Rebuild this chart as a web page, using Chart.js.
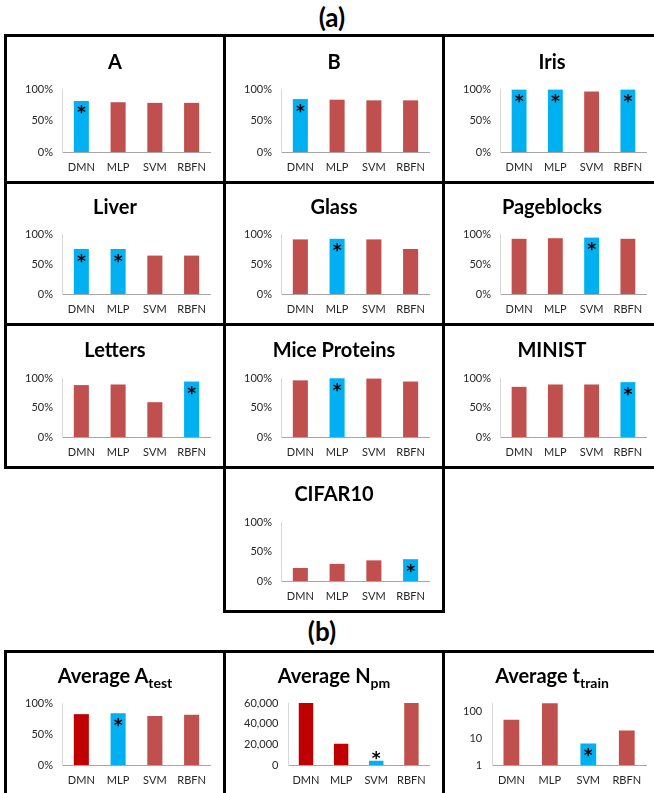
<!DOCTYPE html>
<html>
<head>
<meta charset="utf-8">
<script src="https://cdn.jsdelivr.net/npm/chart.js@4.4.1/dist/chart.umd.min.js"></script>
<style>
  html, body { margin: 0; padding: 0; background: #fff; }
  body { width: 654px; height: 793px; overflow: hidden; position: relative; font-family: Lato, "Open Sans", sans-serif; }
  .hdr { position: absolute; width: 80px; text-align: center; font: bold 26px Lato, sans-serif; line-height: 30px; color: #000; }
  .panel { position: absolute; border: 3px solid #000; box-sizing: border-box; background: #fff; }
  .panel canvas { position: absolute; left: 0; top: 0; }
  .ttl { position: absolute; left: 0; right: 0; text-align: center; font: bold 20px Lato, sans-serif; line-height: 24px; color: #000; white-space: nowrap; }
  .ttl sub { font-size: 14px; line-height: 0; vertical-align: -5px; }
</style>
</head>
<body>
<script>
// Methods compared in every panel
const methods = ['DMN', 'MLP', 'SVM', 'RBFN'];

// Test accuracy (%) per dataset
const accA          = [81, 79, 78, 78];
const accB          = [84, 83, 82, 82];
const accIris       = [99, 99, 96, 99];
const accLiver      = [75, 75, 64, 64];
const accGlass      = [91, 92, 91, 75];
const accPageblocks = [92, 93, 94, 92];
const accLetters    = [88, 89, 59, 94];
const accMice       = [96, 99.5, 99, 94];
const accMinist     = [85, 89, 89, 93];
const accCifar      = [22, 29, 35, 37];

// Averages over all datasets
const avgAccuracy  = [82, 83.5, 79, 81];
const avgParams    = [60000, 20600, 4200, 60000];
const avgTrainTime = [50, 212, 6.4, 20];

// Index of the method(s) marked as best (*) in each panel
const bestA = [0], bestB = [0], bestIris = [0, 1, 3], bestLiver = [0, 1];
const bestGlass = [1], bestPageblocks = [2], bestLetters = [3], bestMice = [1];
const bestMinist = [3], bestCifar = [3];
const bestAvgAccuracy = [1], bestAvgParams = [2], bestAvgTrainTime = [2];

// Axis tick values
const pctTicks = [0, 50, 100];
const paramTicks = [0, 20000, 40000, 60000];
const timeTicks = [1, 10, 100];

const RED = '#C0504D', BLUE = '#00B0F0', DARK_RED = '#C00000';

// Panel frames: column x/width and row geometry
const cols = [{ x: 4, w: 222 }, { x: 223, w: 222 }, { x: 442, w: 220 }];
const rows = [
  { y: 34,  h: 150, titleY: 61,  plotTop: 89,  plotBottom: 152 },
  { y: 181, h: 145, titleY: 206, plotTop: 234, plotBottom: 294 },
  { y: 323, h: 146, titleY: 349, plotTop: 378, plotBottom: 437 },
  { y: 466, h: 147, titleY: 493, plotTop: 522, plotBottom: 581 },
  { y: 650, h: 150, titleY: 675, plotTop: 703, plotBottom: 765 }
];

const panels = [
  { title: 'A',             values: accA,          best: bestA,          col: 0, row: 0, kind: 'pct' },
  { title: 'B',             values: accB,          best: bestB,          col: 1, row: 0, kind: 'pct' },
  { title: 'Iris',          values: accIris,       best: bestIris,       col: 2, row: 0, kind: 'pct' },
  { title: 'Liver',         values: accLiver,      best: bestLiver,      col: 0, row: 1, kind: 'pct' },
  { title: 'Glass',         values: accGlass,      best: bestGlass,      col: 1, row: 1, kind: 'pct' },
  { title: 'Pageblocks',    values: accPageblocks, best: bestPageblocks, col: 2, row: 1, kind: 'pct' },
  { title: 'Letters',       values: accLetters,    best: bestLetters,    col: 0, row: 2, kind: 'pct' },
  { title: 'Mice Proteins', values: accMice,       best: bestMice,       col: 1, row: 2, kind: 'pct' },
  { title: 'MINIST',        values: accMinist,     best: bestMinist,     col: 2, row: 2, kind: 'pct' },
  { title: 'CIFAR10',       values: accCifar,      best: bestCifar,      col: 1, row: 3, kind: 'pct' },
  { title: 'Average A<sub>test</sub>',  values: avgAccuracy,  best: bestAvgAccuracy,  col: 0, row: 4, kind: 'pct',   dark: [0] },
  { title: 'Average N<sub>pm</sub>',    values: avgParams,    best: bestAvgParams,    col: 1, row: 4, kind: 'count', dark: [0, 1] },
  { title: 'Average t<sub>train</sub>', values: avgTrainTime, best: bestAvgTrainTime, col: 2, row: 4, kind: 'log' }
];

// Section headers
function header(text, cx, cy) {
  const d = document.createElement('div');
  d.className = 'hdr';
  d.textContent = text;
  d.style.left = (cx - 40) + 'px';
  d.style.top = (cy - 16) + 'px';
  document.body.appendChild(d);
}
header('(a)', 332, 18);
header('(b)', 322, 632);

// Draws an asterisk over each bar flagged as best
const bestMarks = {
  id: 'bestMarks',
  afterDatasetsDraw(chart, args, opts) {
    const meta = chart.getDatasetMeta(0);
    const ctx = chart.ctx;
    ctx.save();
    ctx.font = 'bold 17px "DejaVu Sans", sans-serif';
    ctx.fillStyle = '#000';
    ctx.textAlign = 'center';
    ctx.textBaseline = 'alphabetic';
    const m = ctx.measureText('*');
    const shift = (m.actualBoundingBoxAscent - m.actualBoundingBoxDescent) / 2;
    (opts.marks || []).forEach(i => {
      const bar = meta.data[i];
      const h = bar.base - bar.y;
      const cy = h > 14 ? bar.y + 9 : bar.y - 5;
      ctx.fillText('*', bar.x, cy + shift);
    });
    ctx.restore();
  }
};

const tickFont = { family: 'Lato', size: 11 };
const tickColor = '#262626';

function yScale(kind) {
  const common = {
    grid: { display: false, drawTicks: false },
    border: { display: true, color: '#D9D9D9', width: 1 },
    ticks: { font: tickFont, color: tickColor, padding: 10 }
  };
  if (kind === 'pct') {
    return Object.assign(common, {
      type: 'linear', min: 0, max: 100,
      afterBuildTicks(s) { s.ticks = pctTicks.map(v => ({ value: v })); },
      ticks: Object.assign({}, common.ticks, { callback: v => v + '%' })
    });
  }
  if (kind === 'count') {
    return Object.assign(common, {
      type: 'linear', min: 0, max: 60000,
      afterBuildTicks(s) { s.ticks = paramTicks.map(v => ({ value: v })); },
      ticks: Object.assign({}, common.ticks, { callback: v => Number(v).toLocaleString('en-US') })
    });
  }
  return Object.assign(common, {
    type: 'logarithmic', min: 1, max: 215,
    afterBuildTicks(s) { s.ticks = timeTicks.map(v => ({ value: v })); },
    ticks: Object.assign({}, common.ticks, { callback: v => String(v) })
  });
}

function drawPanel(p) {
  const c = cols[p.col], r = rows[p.row];
  const box = document.createElement('div');
  box.className = 'panel';
  box.style.left = c.x + 'px';
  box.style.top = r.y + 'px';
  box.style.width = c.w + 'px';
  box.style.height = r.h + 'px';
  document.body.appendChild(box);

  const cw = c.w - 6, ch = r.h - 6;
  const cv = document.createElement('canvas');
  cv.width = cw; cv.height = ch;
  cv.style.width = cw + 'px'; cv.style.height = ch + 'px';
  box.appendChild(cv);

  const t = document.createElement('div');
  t.className = 'ttl';
  t.innerHTML = p.title;
  t.style.top = (r.titleY - r.y - 3 - 12.5) + 'px';
  box.appendChild(t);

  const dark = p.dark || [];
  const colors = p.values.map((v, i) => p.best.includes(i) ? BLUE : (dark.includes(i) ? DARK_RED : RED));

  const top = r.plotTop - r.y - 3;
  const bottom = r.plotBottom - r.y - 3;
  const xAxisH = 24;

  new Chart(cv, {
    type: 'bar',
    data: {
      labels: methods,
      datasets: [{
        data: p.values,
        backgroundColor: colors,
        borderWidth: 0,
        barPercentage: 0.41,
        categoryPercentage: 1
      }]
    },
    options: {
      responsive: false,
      animation: false,
      devicePixelRatio: 1,
      layout: { padding: { left: 8, right: 13, top: top, bottom: ch - bottom - xAxisH } },
      plugins: {
        legend: { display: false },
        tooltip: { enabled: false },
        title: { display: false },
        bestMarks: { marks: p.best }
      },
      scales: {
        x: {
          grid: { display: false, drawTicks: false },
          border: { display: true, color: '#A6A6A6', width: 1 },
          ticks: { font: tickFont, color: tickColor, padding: 9, maxRotation: 0 },
          afterFit(s) { s.height = xAxisH; }
        },
        y: yScale(p.kind)
      }
    },
    plugins: [bestMarks]
  });
}

panels.forEach(drawPanel);
</script>
</body>
</html>
